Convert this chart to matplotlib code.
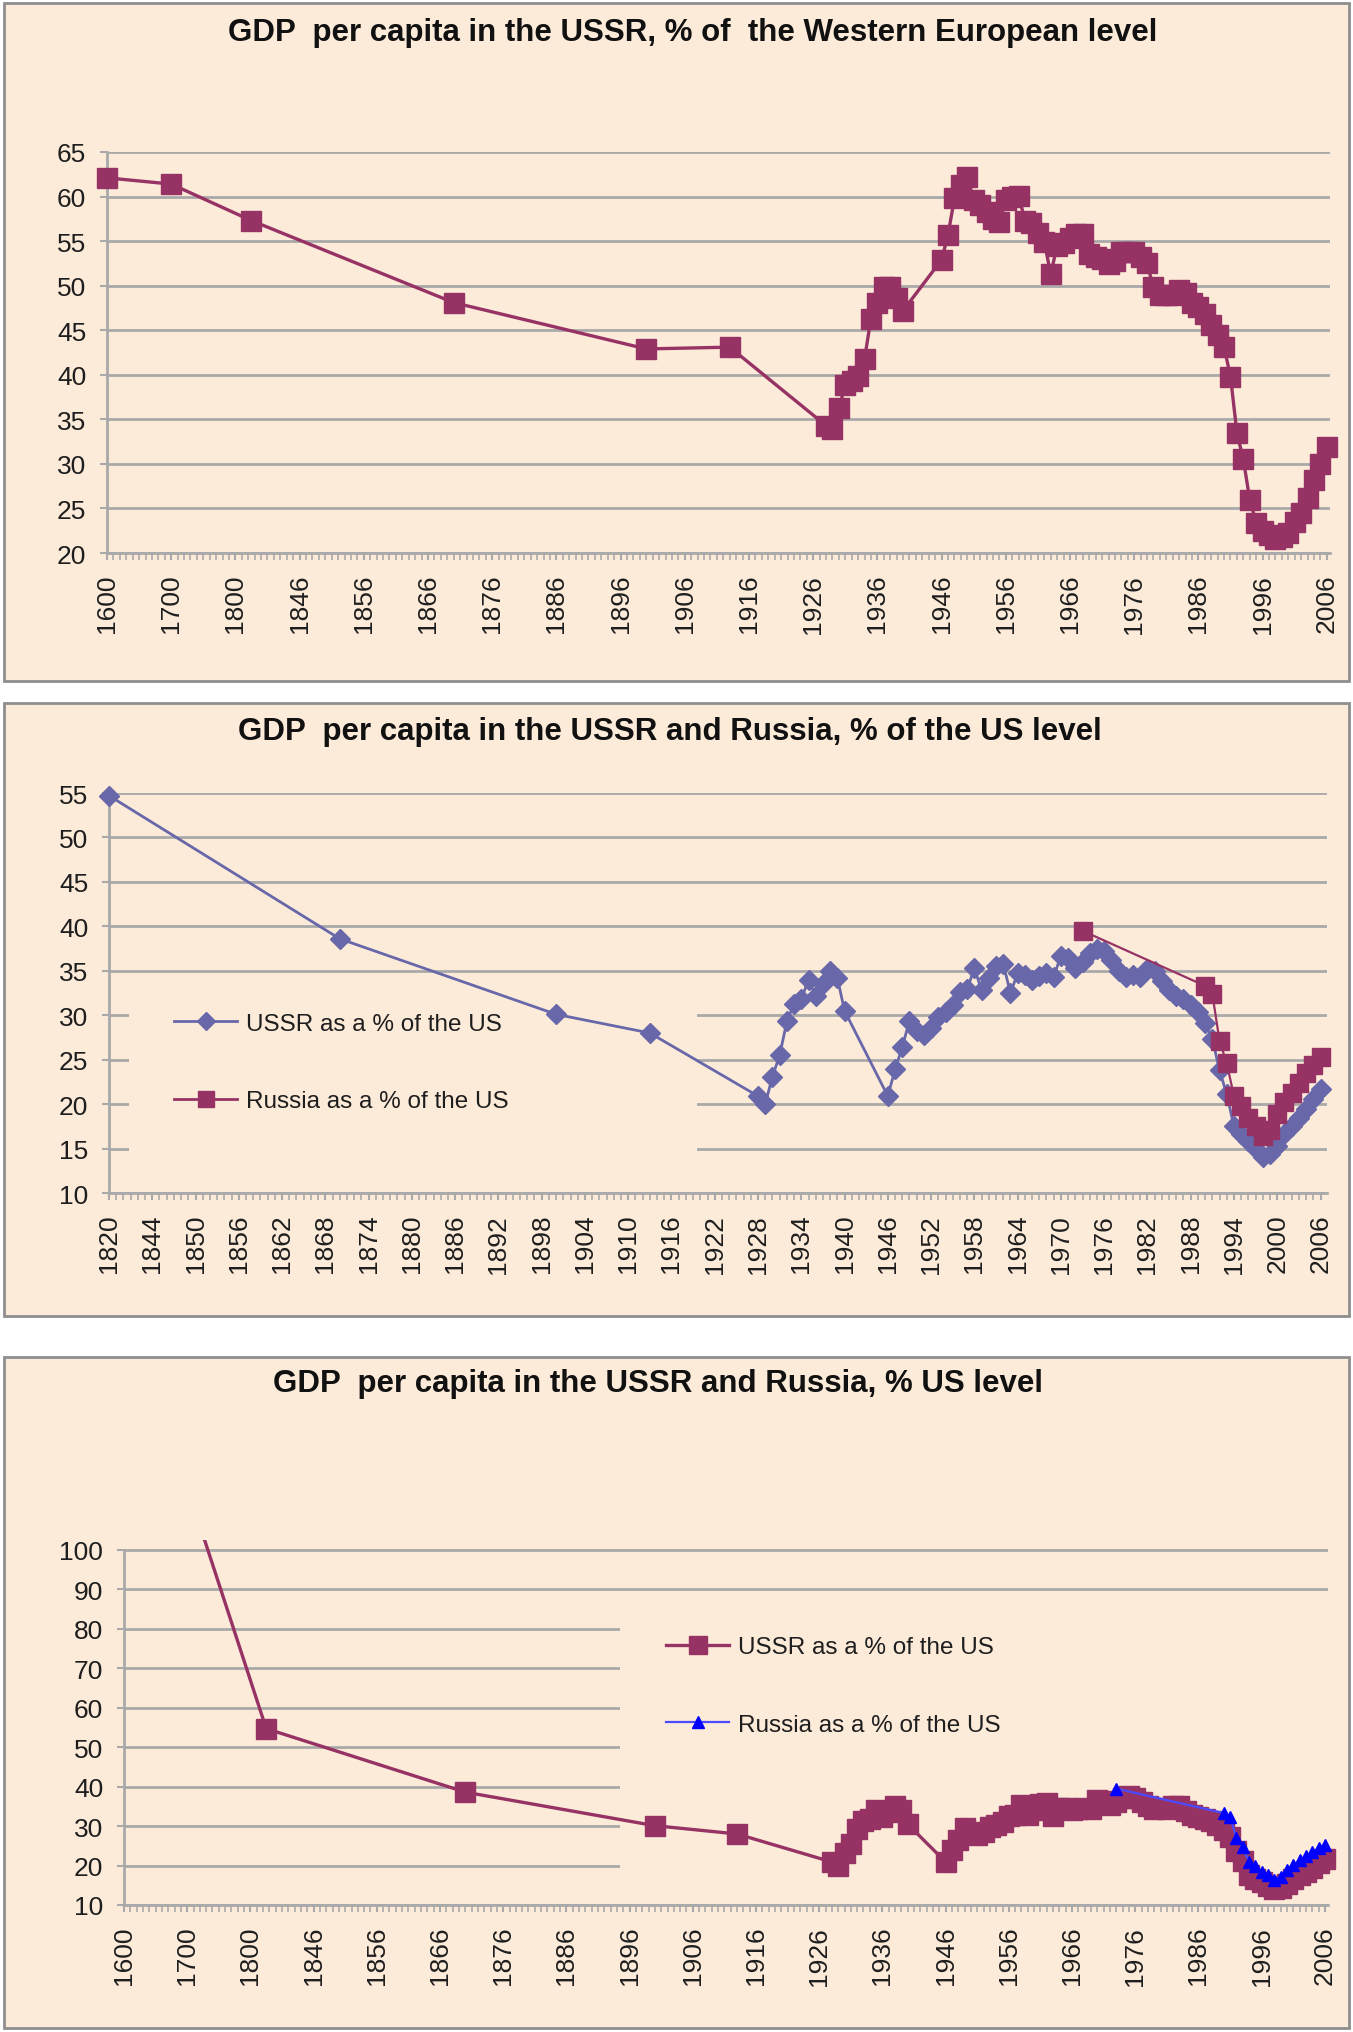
import numpy as np
import matplotlib
matplotlib.use('Agg')
import matplotlib.pyplot as plt
from matplotlib.patches import Rectangle
from matplotlib.lines import Line2D

plt.rcParams['font.family'] = ['Liberation Sans', 'DejaVu Sans']

W, H = 1353, 2033
BG = '#FDEBDA'
EDGE = '#8E8E8E'
GRID = '#A9A9A9'
MAROON = '#963264'
SLATE = '#6767A9'
BLUE = '#0000FF'
TXT = '#1E1E1E'

# --- chart 1: USSR, % of Western Europe ---
we_years = [1600, 1700, 1820, 1870, 1900, 1913] + list(range(1928, 1941)) + list(range(1946, 2007))
we_values = [62.1, 61.4, 57.3, 48.1, 42.9, 43.1,
             34.3, 33.9, 36.3, 38.8, 39.3, 39.9, 41.8, 46.3, 48.1, 49.8, 49.8, 48.6, 47.2,
             52.9, 55.7, 59.8, 61.3, 62.2, 59.6, 59.0, 58.3, 57.5, 57.2,
             59.6, 60.0, 60.1, 57.3, 57.0, 55.9, 54.9, 51.3, 54.5, 54.8,
             55.3, 55.8, 55.8, 53.6, 53.2, 53.0, 52.4, 52.8, 53.8, 53.8,
             53.8, 53.2, 52.5, 49.8, 48.9, 48.9, 49.0, 49.5, 49.2, 48.1,
             47.6, 46.8, 45.6, 44.5, 43.1,
             39.8, 33.5, 30.5, 26.0, 23.4, 22.5, 22.0, 21.6, 21.8, 22.3,
             23.5, 24.5, 26.2, 28.2, 30.0, 31.9]

# --- chart 2/3: USSR and Russia, % of the US ---
us_years = [1820, 1870, 1900, 1913] + list(range(1928, 1941)) + list(range(1946, 2007))
ussr_us = [54.7, 38.6, 30.1, 28.0,
           20.9, 20.0, 23.1, 25.5, 29.3, 31.3, 31.8, 34.0, 32.2, 33.5, 35.0, 34.2, 30.5,
           20.9, 23.9, 26.4, 29.4, 28.2, 27.8, 28.6, 29.8, 30.4, 31.1,
           32.6, 32.9, 35.3, 32.8, 34.2, 35.5, 35.8, 32.5, 34.7, 34.5,
           34.0, 34.4, 34.7, 34.3, 36.7, 36.4, 35.3, 36.0, 37.0, 37.5,
           37.2, 36.2, 35.0, 34.3, 34.5, 34.3, 35.2, 35.0, 33.8, 32.8,
           32.2, 31.8, 31.2, 30.4, 29.1,
           27.3, 23.8, 21.1, 17.5, 16.6, 15.8, 14.9, 14.0, 14.4, 15.3,
           16.6, 17.5, 18.4, 19.5, 20.6, 21.7]
rus_years = [1973] + list(range(1990, 2007))
rus_us = [39.5, 33.3, 32.4, 27.1, 24.6, 20.9, 19.8, 18.4, 17.5, 16.4,
          17.1, 18.9, 20.2, 21.3, 22.4, 23.5, 24.4, 25.3]
# chart 3 adds two early points (off the top of the axis)
early_years = [1600, 1700]
early_ussr_us = [125.0, 116.0]

long_ticks = [1600, 1700, 1800] + list(range(1846, 2007, 10))
short_ticks = [1820] + list(range(1844, 2007, 6))


def pos_long(year):
    # category index on the 1600..2006 axis
    early = {1600: 0, 1700: 10, 1820: 22.5}
    return early.get(year, year - 1816)


def pos_short(year):
    # category index on the 1820..2006 axis
    return 0 if year == 1820 else year - 1838


def px_axes(fig, left, top, right, bottom):
    return fig.add_axes([left / W, 1 - bottom / H, (right - left) / W, (bottom - top) / H])


def panel(fig, x0, y0, x1, y1):
    fig.add_artist(Rectangle((x0 / W, 1 - y1 / H), (x1 - x0) / W, (y1 - y0) / H,
                             transform=fig.transFigure, facecolor=BG, edgecolor=EDGE,
                             linewidth=2, zorder=0))


def style_axes(ax, yticks, xtick_pos, xtick_labels, n_cat):
    ax.set_facecolor('none')
    ax.set_axisbelow(True)
    ax.yaxis.grid(True, color=GRID, linewidth=2)
    for s in ['top', 'right']:
        ax.spines[s].set_visible(False)
    for s in ['left', 'bottom']:
        ax.spines[s].set_color(GRID)
        ax.spines[s].set_linewidth(2)
    ax.set_yticks(yticks)
    ax.set_xticks(xtick_pos)
    ax.set_xticklabels(xtick_labels, rotation=90)
    ax.set_xticks(np.arange(0, n_cat + 1, 1), minor=True)
    ax.tick_params(axis='both', which='major', direction='out', length=5, width=1.5,
                   color=GRID, labelsize=19, labelcolor=TXT, pad=10)
    ax.tick_params(axis='x', which='minor', direction='out', length=5, width=1.2, color=GRID)


def title(fig, cx, cy, text):
    fig.text(cx / W, 1 - cy / H, text, ha='center', va='center', fontsize=22.5,
             fontweight='bold', color='#111111')


fig = plt.figure(figsize=(W / 100, H / 100), dpi=100)
fig.patch.set_facecolor('white')

# ---------------- chart 1 ----------------
panel(fig, 4, 4, 1349, 682)
title(fig, 693, 33, 'GDP  per capita in the USSR, % of  the Western European level')
ax1 = px_axes(fig, 107, 153, 1330, 554)
ax1.plot([pos_long(y) for y in we_years], we_values, color=MAROON, linewidth=2.4,
         marker='s', markersize=14.5, clip_on=False, zorder=3)
ax1.set_xlim(0, 190.5)
ax1.set_ylim(20, 65)
style_axes(ax1, range(20, 66, 5), range(0, 191, 10), long_ticks, 190)

# ---------------- chart 2 ----------------
panel(fig, 4, 704, 1349, 1317)
title(fig, 670, 732, 'GDP  per capita in the USSR and Russia, % of the US level')
ax2 = px_axes(fig, 109, 794, 1327, 1194)
ax2.plot([pos_short(y) for y in us_years], ussr_us, color=SLATE, linewidth=2,
         marker='D', markersize=10, clip_on=False, zorder=3)
ax2.plot([pos_short(y) for y in rus_years], rus_us, color=MAROON, linewidth=1.6,
         marker='s', markersize=13, clip_on=False, zorder=4)
ax2.set_xlim(0, 168.9)
ax2.set_ylim(10, 55)
style_axes(ax2, range(10, 56, 5), range(0, 169, 6), short_ticks, 168)
ax2.add_patch(Rectangle((2.8, 12), 78.7, 21, facecolor=BG, edgecolor='none', zorder=1))
h2 = [Line2D([], [], color=SLATE, linewidth=2, marker='D', markersize=9.5),
      Line2D([], [], color=MAROON, linewidth=2, marker='s', markersize=12)]
ax2.legend(h2, ['USSR as a % of the US', 'Russia as a % of the US'], loc='center left',
           bbox_to_anchor=(174 / W, 1 - 1063.5 / H), bbox_transform=fig.transFigure,
           frameon=False, borderpad=0, borderaxespad=0, handlelength=2.6,
           handletextpad=0.35, labelspacing=2.3, fontsize=17.5, labelcolor=TXT)

# ---------------- chart 3 ----------------
panel(fig, 4, 1358, 1349, 2029)
title(fig, 658, 1384, 'GDP  per capita in the USSR and Russia, % US level')
ax3 = px_axes(fig, 124, 1541, 1328, 1906)
ussr_line, = ax3.plot([pos_long(y) for y in early_years + us_years], early_ussr_us + ussr_us,
                      color=MAROON, linewidth=2.4, marker='s', markersize=14.5, zorder=3)
rus_line, = ax3.plot([pos_long(y) for y in rus_years], rus_us, color='#4A4AFF', linewidth=1.6,
                     marker='^', markersize=9, markerfacecolor=BLUE, markeredgecolor=BLUE,
                     zorder=4)
ax3.set_xlim(0, 190.5)
ax3.set_ylim(10, 102.5)
clip = Rectangle((-0.05, -0.2), 1.1, 1.2, transform=ax3.transAxes)
ussr_line.set_clip_path(clip)
rus_line.set_clip_path(clip)
style_axes(ax3, range(10, 101, 10), range(0, 191, 10), long_ticks, 190)
ax3.spines['left'].set_bounds(10, 100)
ax3.add_patch(Rectangle((78.5, 13), 112.5, 73, facecolor=BG, edgecolor='none', zorder=1))
h3 = [Line2D([], [], color=MAROON, linewidth=2.4, marker='s', markersize=13),
      Line2D([], [], color='#4A4AFF', linewidth=1.6, marker='^', markersize=9,
             markerfacecolor=BLUE, markeredgecolor=BLUE)]
ax3.legend(h3, ['USSR as a % of the US', 'Russia as a % of the US'], loc='center left',
           bbox_to_anchor=(666 / W, 1 - 1687 / H), bbox_transform=fig.transFigure,
           frameon=False, borderpad=0, borderaxespad=0, handlelength=2.6,
           handletextpad=0.35, labelspacing=2.3, fontsize=17.5, labelcolor=TXT)

fig.savefig('out.png', dpi=100, facecolor='white')
